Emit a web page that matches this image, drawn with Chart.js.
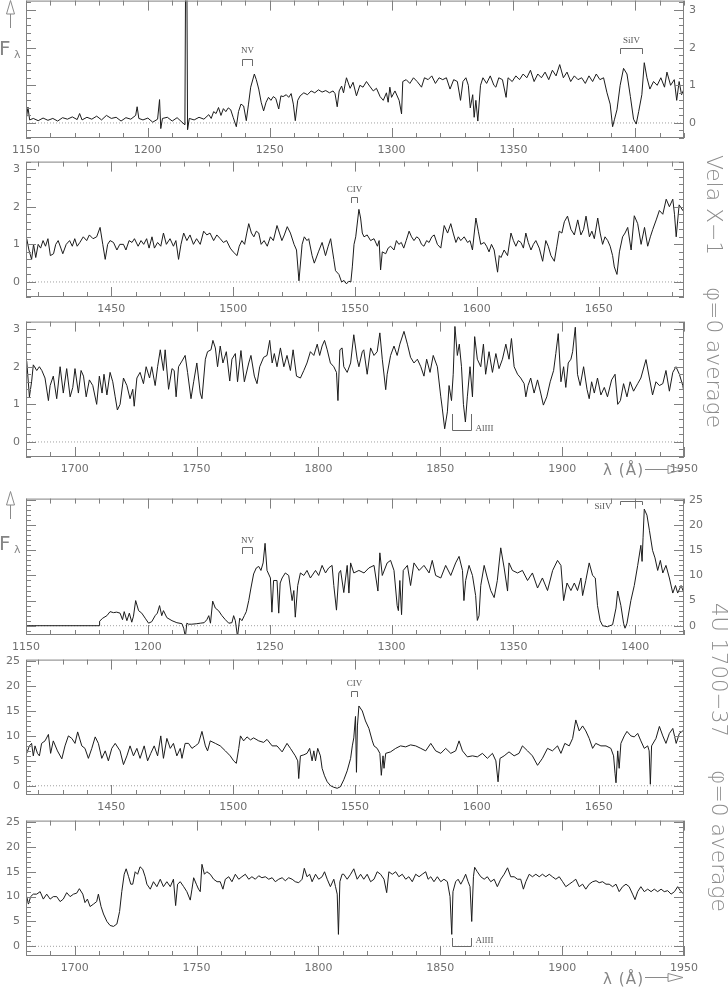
<!DOCTYPE html>
<html><head><meta charset="utf-8">
<script src="https://cdn.jsdelivr.net/npm/chart.js@4/dist/chart.umd.min.js"></script>
<style>
html,body{margin:0;padding:0;background:#fff;}
#wrap{position:relative;width:728px;height:987px;overflow:hidden;background:#fff;}
#wrap canvas{position:absolute;left:0;}
#over{position:absolute;left:0;top:0;}
</style></head>
<body><div id="wrap"></div>
<script>
// ---------- data (wavelength in Å, flux) ----------
const vela1 = [[1150,0.05],[1150.8,0.42],[1151.5,0.08],[1153,0.12],[1155,0.06],[1157,0.13],[1159,0.07],[1161,0.12],[1163,0.05],[1165,0.14],[1167,0.1],[1169,0.16],[1171,0.09],[1172,0.25],[1173,0.08],[1175,0.15],[1177,0.1],[1179,0.18],[1181,0.08],[1183,0.2],[1185,0.12],[1187,0.15],[1189,0.05],[1191,0.14],[1193,0.1],[1195,0.2],[1195.6,0.43],[1196.3,0.12],[1198,0.08],[1200,0.13],[1202,0.02],[1204,0.1],[1204.8,0.62],[1205.3,-0.15],[1206,0.12],[1208,0.15],[1210,0.05],[1212,0.14],[1214,0.02],[1215.2,-0.05],[1215.5,4.0],[1216.0,4.0],[1216.3,-0.18],[1217,0.12],[1219,0.08],[1221,0.15],[1223,0.1],[1225,0.22],[1226,0.12],[1227,0.3],[1228,0.25],[1229,0.41],[1230,0.2],[1231,0.38],[1232,0.3],[1233,0.4],[1234,0.35],[1235,0.15],[1236.3,-0.1],[1237.2,0.3],[1238.2,0.5],[1239.3,0.45],[1240.4,0.06],[1241.3,0.5],[1242.2,0.95],[1243.7,1.3],[1244.5,1.15],[1245.5,0.9],[1246.5,0.55],[1247.5,0.32],[1248.5,0.55],[1249.5,0.68],[1250.5,0.6],[1251.5,0.7],[1252.5,0.65],[1253.7,0.37],[1254.6,0.72],[1255.5,0.7],[1256.8,0.75],[1257.8,0.68],[1258.8,0.78],[1259.7,0.5],[1260.5,0.06],[1261.5,0.6],[1262.5,0.72],[1264,0.8],[1265.5,0.75],[1267,0.85],[1268.5,0.8],[1270,0.88],[1271.5,0.82],[1273,0.86],[1274.5,0.8],[1276,0.85],[1276.8,0.78],[1277.7,0.43],[1278.5,0.85],[1279.5,0.98],[1280.3,0.8],[1281,1.05],[1281.5,1.2],[1283,0.92],[1284.2,1.08],[1285.6,0.72],[1287,1.0],[1288.3,0.95],[1289.7,1.1],[1291,0.98],[1292.5,0.85],[1293.8,0.92],[1295.3,0.7],[1296.6,0.6],[1297.9,0.8],[1298.6,0.55],[1299.3,0.95],[1300,0.68],[1301.4,0.85],[1303.1,0.6],[1304.1,0.24],[1304.6,1.1],[1306,1.15],[1307.5,1.05],[1309,1.2],[1310.5,1.1],[1312.3,0.95],[1313.5,1.2],[1315,1.15],[1316.5,1.25],[1318,1.05],[1319.5,1.2],[1321,1.15],[1322.5,1.2],[1324,0.9],[1325.5,1.15],[1327,1.1],[1328.3,0.6],[1329.3,1.1],[1330.5,1.2],[1331.5,1.0],[1332.3,0.4],[1333.3,0.75],[1333.9,0.15],[1334.6,0.6],[1335.4,0.05],[1336.5,1.0],[1337.5,1.2],[1339,1.05],[1340.5,1.25],[1342,1.0],[1342.8,0.95],[1344,1.2],[1345.5,1.15],[1347,0.68],[1347.8,1.2],[1349.5,1.1],[1351,1.25],[1352.5,1.15],[1354,1.3],[1355.5,1.2],[1357,1.4],[1358.5,1.1],[1360,1.3],[1361.5,1.2],[1363,1.35],[1364.5,1.15],[1366,1.4],[1367.5,1.25],[1369,1.55],[1370.5,1.2],[1372,1.35],[1373.5,1.1],[1375,1.25],[1376.5,1.15],[1378,1.2],[1379.5,1.05],[1381,1.25],[1382.5,1.1],[1384,1.3],[1385.5,1.15],[1387,1.2],[1388.4,0.8],[1389.7,0.5],[1390.7,-0.1],[1391.5,0.1],[1392.5,0.35],[1393.8,1.0],[1395.2,1.45],[1396.6,1.3],[1398,0.7],[1399.3,0.1],[1400.4,-0.03],[1401.4,0.3],[1402.7,0.75],[1403.7,1.6],[1404.8,1.2],[1406,0.9],[1407.5,1.1],[1409,1.0],[1410.5,1.2],[1412,0.95],[1413,1.35],[1414.5,1.0],[1416,1.15],[1417,0.6],[1418,1.1],[1419,0.75],[1420,0.9]];

const vela2 = [[1415.3,1.15],[1416.2,0.85],[1417.3,0.6],[1418.1,1.0],[1419,0.65],[1420,1.0],[1421,0.9],[1422,1.1],[1423,0.95],[1424,1.15],[1425,0.7],[1426.3,0.75],[1427.2,1.0],[1428.2,1.1],[1429.3,0.9],[1430.1,0.75],[1431.5,1.0],[1432.9,1.1],[1434,0.95],[1435,1.15],[1436,0.95],[1437.1,1.05],[1438.5,1.2],[1439.9,1.1],[1441,1.25],[1442.5,1.15],[1444,1.2],[1445.4,1.45],[1446.5,1.0],[1447.5,0.6],[1448.5,1.0],[1449.5,1.1],[1450.9,1.05],[1452.3,0.85],[1453.5,1.0],[1455,1.0],[1456,0.85],[1457.3,1.1],[1458.5,1.05],[1459.5,1.15],[1461,0.95],[1462.2,1.1],[1463.3,1.0],[1464.5,1.15],[1465.5,0.9],[1466.7,1.2],[1467.7,0.9],[1469,1.05],[1470.3,0.95],[1471.4,1.3],[1472.6,1.0],[1474.1,1.15],[1475.5,0.95],[1476.5,1.1],[1477.6,0.6],[1478.6,1.0],[1479.7,1.3],[1481,1.1],[1482.3,1.25],[1483.7,1.0],[1485,1.15],[1486.5,1.0],[1487.9,1.35],[1489.2,1.25],[1490.5,1.3],[1492,1.1],[1493.3,1.25],[1494.7,1.15],[1496,1.05],[1497.3,1.1],[1498.8,0.9],[1500,0.8],[1501.6,0.7],[1502.5,0.95],[1503.6,1.1],[1504.7,1.0],[1505.6,1.3],[1506.4,1.55],[1507.5,1.3],[1508.5,1.2],[1509.5,1.35],[1510.5,1.3],[1511.5,1.0],[1512.7,1.1],[1514,0.95],[1515.3,1.2],[1516.5,1.1],[1518,1.5],[1519,1.3],[1520,1.1],[1521,1.25],[1522.2,1.47],[1523.5,1.3],[1525,1.0],[1526,0.85],[1527,0.03],[1528.3,1.0],[1529.2,1.2],[1530.3,1.1],[1531,1.15],[1532.4,0.7],[1533.3,0.5],[1535,0.8],[1536.5,1.05],[1537.9,0.7],[1539,0.95],[1540,1.15],[1541.3,0.6],[1542,0.3],[1543.4,0.2],[1544.5,0.0],[1545.5,0.04],[1546.5,-0.05],[1547.5,0.02],[1548.3,0.0],[1548.9,0.4],[1549.6,1.0],[1550.3,1.2],[1551.6,1.93],[1552.3,1.7],[1553,1.3],[1553.7,1.2],[1555,1.25],[1556.4,1.1],[1557.8,1.15],[1559.2,0.95],[1559.9,1.1],[1560.5,0.32],[1561.2,0.8],[1562.6,0.75],[1563.6,0.9],[1564.6,0.95],[1566,0.85],[1567,1.1],[1568,1.0],[1569,1.05],[1570,0.9],[1571,1.1],[1572.2,1.35],[1573.2,1.2],[1574.2,1.1],[1575.3,1.2],[1576.3,1.15],[1577.3,1.0],[1578.3,0.95],[1579.4,1.1],[1580.4,1.05],[1581.5,1.2],[1582.5,1.25],[1583.8,1.0],[1585.2,0.9],[1586.6,1.5],[1588,1.3],[1589.3,1.55],[1590.3,1.3],[1591.4,1.05],[1592.4,1.2],[1593.4,1.1],[1594.8,1.2],[1596.2,1.05],[1597.2,1.1],[1598.2,0.85],[1599.6,1.7],[1600.6,1.35],[1601.6,1.0],[1603,1.05],[1604,0.95],[1605,0.8],[1606,1.0],[1607.1,0.85],[1608.5,0.26],[1609.2,0.7],[1609.9,0.65],[1611.2,0.85],[1612.6,0.7],[1614,1.3],[1615,1.1],[1616,0.95],[1617,1.1],[1618.1,1.05],[1619.1,0.9],[1620.1,1.3],[1621.1,1.05],[1622.2,0.85],[1623.2,1.0],[1624.2,1.1],[1625.6,0.9],[1627,0.55],[1628.3,1.1],[1629.3,0.95],[1630.4,0.7],[1631.8,0.55],[1632.8,0.95],[1633.8,1.35],[1634.9,1.3],[1635.9,1.6],[1637.2,1.75],[1638.6,1.4],[1640,1.25],[1641.4,1.65],[1642.7,1.25],[1643.8,1.4],[1644.8,1.75],[1646.2,1.2],[1647.2,1.35],[1648.2,1.15],[1649.6,1.7],[1650.6,1.3],[1651.6,1.0],[1652.6,1.2],[1653.7,1.1],[1654.7,0.95],[1655.7,0.7],[1656.4,0.4],[1657.5,0.2],[1658.5,0.8],[1659.8,1.2],[1660.8,1.3],[1661.9,1.45],[1663.3,0.85],[1664.6,1.76],[1666,1.55],[1667.4,1.0],[1668.8,1.45],[1670.1,0.95],[1671.2,1.2],[1672.2,1.4],[1673.6,1.65],[1674.9,1.9],[1676.3,1.8],[1677.7,2.2],[1679,2.0],[1680.4,2.2],[1681.1,1.8],[1681.8,1.2],[1683,2.05],[1684.5,1.9],[1685.5,2.05]];

const vela3 = [[1680.3,2.15],[1681.4,1.2],[1682.3,1.6],[1683,2.05],[1684.4,1.9],[1685.5,2.0],[1686.5,1.9],[1687.8,1.7],[1689.2,1.1],[1689.9,1.5],[1691.2,1.75],[1692.6,1.15],[1694,2.0],[1695.3,1.3],[1696.7,1.95],[1698.1,1.2],[1699.2,1.45],[1700.1,1.95],[1701.5,1.3],[1702.6,1.9],[1703.6,1.75],[1704.7,1.2],[1706,1.65],[1707.4,1.5],[1709,1.0],[1710.1,1.75],[1711.2,1.3],[1712,1.8],[1713.2,1.25],[1714.5,1.85],[1715.6,1.6],[1716.6,1.2],[1717.5,0.85],[1718.6,1.0],[1720,1.7],[1721.4,1.5],[1722.7,1.15],[1723.8,1.4],[1724.4,0.95],[1725.5,1.7],[1726.8,1.85],[1728.2,1.55],[1729.3,2.0],[1730.7,1.7],[1731.6,2.0],[1733,1.5],[1734,2.0],[1735.1,2.45],[1736.4,1.9],[1737.1,2.45],[1738.5,1.4],[1739.9,1.95],[1740.8,1.9],[1741.6,1.2],[1742.6,2.0],[1744,2.15],[1745.3,2.3],[1746.3,1.85],[1747.7,1.15],[1748.8,1.6],[1750.1,2.1],[1751.5,1.3],[1752.2,1.15],[1753.6,2.2],[1754.5,2.4],[1755.9,2.45],[1756.7,2.7],[1757.7,2.5],[1758.6,2.0],[1759.7,2.55],[1760.8,2.1],[1762.2,2.4],[1763.6,1.62],[1764.5,2.2],[1765.9,2.35],[1766.8,1.6],[1768.2,2.43],[1769.6,1.6],[1771.4,2.1],[1772.3,2.3],[1773.7,1.75],[1774.8,1.55],[1775.9,2.0],[1777.5,2.25],[1778.9,2.3],[1780,2.7],[1781,2.1],[1781.9,2.35],[1783,2.0],[1784.4,2.5],[1785.8,2.0],[1787.1,2.3],[1788.5,1.9],[1789.6,2.45],[1791,1.75],[1792.6,1.7],[1794,1.9],[1795.3,2.1],[1796.7,2.4],[1798.1,2.3],[1799.5,2.6],[1800.5,2.3],[1801.5,2.55],[1802.5,2.7],[1803.6,2.45],[1804.9,2.1],[1806.3,2.0],[1807.4,1.85],[1808,1.1],[1808.8,2.45],[1809.7,2.5],[1810.4,2.0],[1811.8,1.85],[1813.2,2.1],[1814.5,2.85],[1815.9,2.2],[1816.6,2.0],[1818,2.4],[1818.6,2.45],[1820,1.8],[1821.4,2.5],[1822.8,2.3],[1824.1,2.4],[1825.2,2.9],[1826.2,2.2],[1827.6,1.39],[1828.2,1.8],[1829.6,2.3],[1831,2.55],[1832.3,2.3],[1833.4,2.6],[1835.1,2.94],[1836.5,2.6],[1837.8,2.25],[1839.2,2.1],[1840.6,2.2],[1842,2.0],[1843.3,1.75],[1844.4,2.2],[1845.8,1.85],[1847.1,2.3],[1848.8,2.0],[1850.2,1.2],[1850.8,0.9],[1851.8,0.35],[1852.9,0.8],[1853.6,1.5],[1854.6,1.1],[1855.3,1.8],[1856,3.07],[1857,2.3],[1857.8,2.6],[1858.7,2.0],[1859.5,1.0],[1860.3,0.53],[1861.1,1.2],[1862.2,2.0],[1863.2,1.2],[1864.1,2.8],[1865.2,2.2],[1866.6,2.0],[1867.7,2.6],[1868.6,1.8],[1870,2.4],[1871.4,1.85],[1872.8,2.35],[1874.1,1.95],[1875.5,2.2],[1876.9,2.6],[1878.2,2.2],[1879.2,2.75],[1880.3,2.0],[1881.7,1.8],[1883,1.7],[1884.4,1.55],[1885.1,1.2],[1886,1.5],[1887.1,1.7],[1888.5,1.3],[1889.9,1.65],[1891.2,1.3],[1892.3,0.98],[1893.7,1.2],[1895.1,1.6],[1896.5,1.9],[1897.4,2.35],[1898.4,2.88],[1899.5,1.6],[1900.6,2.0],[1901.5,1.45],[1902.5,2.1],[1903.6,2.2],[1904.3,2.4],[1905.4,3.05],[1906.3,1.8],[1907.4,1.5],[1908.8,2.0],[1910.2,1.4],[1911.1,1.15],[1912.1,1.6],[1913.2,1.3],[1914.5,1.7],[1915.9,1.25],[1917.3,1.45],[1918.6,1.2],[1920.3,1.65],[1921.7,1.8],[1922.8,1.0],[1923.9,1.1],[1925.2,1.55],[1926.6,1.2],[1927.9,1.6],[1929.3,1.35],[1931,1.55],[1932.3,1.7],[1934.4,2.19],[1935.8,1.7],[1937.1,1.25],[1938.5,1.6],[1939.9,1.5],[1941.3,1.55],[1942.6,1.9],[1944,1.35],[1945.4,1.85],[1946.7,2.0],[1948.1,1.8],[1949.5,1.5],[1950,1.3]];

const u1700a = [[1150,0],[1180,0],[1180.2,0.9],[1181.5,1.5],[1183.2,2.0],[1184.5,2.8],[1185.9,2.6],[1187.2,2.7],[1188.6,2.5],[1189.6,1.2],[1190.3,2.8],[1191.4,1.0],[1192.4,2.5],[1193.4,0.7],[1194.1,1.9],[1195,5.0],[1196.2,3.0],[1197.5,2.5],[1198.9,1.5],[1200.3,0.5],[1201.6,0.8],[1203,2.0],[1203.9,2.5],[1204.8,4.0],[1205.7,2.0],[1206.4,3.0],[1207.8,1.6],[1209.9,1.0],[1211.9,0.6],[1214,0.4],[1214.7,-0.5],[1215.4,-2.2],[1216,0.5],[1216.7,0.3],[1218,0.3],[1220.1,0.4],[1221.5,0.5],[1223.1,0.6],[1224.2,1.2],[1225,2.0],[1225.7,0.5],[1226.6,4.9],[1227.7,3.5],[1229,3.0],[1230.4,2.0],[1231.8,1.2],[1233.2,0.5],[1234.5,0.6],[1235.2,2.0],[1235.9,1.0],[1236.8,-2.2],[1237.7,1.5],[1238.6,1.0],[1239.6,2.0],[1240.4,2.8],[1241.4,5.0],[1242.3,7.5],[1243.4,10.3],[1244.5,11.5],[1245.5,11.8],[1246.4,11.0],[1247.3,12.5],[1248.1,16.4],[1248.9,11.0],[1250.3,9.5],[1250.9,2.7],[1251.6,9.0],[1253,9.0],[1253.7,2.5],[1254.3,8.5],[1255.1,9.5],[1256.4,10.5],[1257.8,10.0],[1259.2,5.0],[1259.9,7.0],[1260.5,1.7],[1261.5,8.0],[1262.6,10.5],[1264,10.0],[1265.3,11.0],[1266.7,9.5],[1268.8,11.0],[1270.1,10.0],[1271.5,12.0],[1272.9,10.5],[1274.2,11.5],[1275.6,12.0],[1276.3,8.0],[1277.4,3.1],[1278.4,10.5],[1279.1,11.0],[1280.4,6.6],[1281.8,12.0],[1282.5,6.5],[1283.2,12.5],[1284.5,10.5],[1286.6,11.0],[1288.7,10.5],[1290.7,11.5],[1292.8,12.0],[1294.4,6.9],[1295.2,14.5],[1296.2,10.0],[1298.2,12.5],[1299.6,13.0],[1301,11.0],[1302.3,4.0],[1302.8,3.0],[1303.4,9.0],[1304.1,2.2],[1304.8,11.0],[1306.5,12.0],[1307.8,8.0],[1309.2,12.5],[1311.3,11.0],[1313.3,12.0],[1315.4,10.5],[1316.7,13.0],[1318.1,10.0],[1320.2,9.5],[1322.2,12.0],[1324.3,10.0],[1326.3,12.5],[1327.7,13.8],[1329.1,11.0],[1329.7,5.0],[1330.4,9.0],[1331.8,12.0],[1333.2,10.0],[1334.5,6.0],[1335.2,1.05],[1335.9,2.0],[1336.6,8.0],[1338,12.0],[1339.3,9.5],[1340.7,7.0],[1342.1,5.6],[1343.4,9.0],[1344.8,15.5],[1346.2,11.5],[1347.6,6.9],[1348.2,12.5],[1349.6,11.0],[1351.7,10.5],[1353.7,11.0],[1355.8,9.0],[1357.8,10.5],[1359.9,7.5],[1361.9,9.5],[1364,7.0],[1366.1,11.0],[1368.1,13.0],[1369.5,12.0],[1370.6,5.0],[1372,8.5],[1373.6,7.0],[1375,8.5],[1376.3,7.0],[1377.7,9.5],[1378.4,6.0],[1379.7,9.0],[1381.1,12.5],[1382.5,10.0],[1383.6,9.5],[1384.5,4.0],[1385.6,1.0],[1386.6,0.0],[1388.6,-0.2],[1390.7,0.2],[1392.1,3.5],[1392.8,6.9],[1394.1,4.0],[1395.2,0.5],[1395.8,-0.5],[1396.6,0.5],[1398.2,5.0],[1399.6,8.0],[1401,12.0],[1402.3,16.0],[1402.8,12.8],[1403.2,17.5],[1403.7,23.2],[1404.8,22.0],[1405.8,19.0],[1407.1,15.0],[1408.1,13.5],[1409.2,11.0],[1410.3,13.0],[1411.3,10.5],[1412.6,12.0],[1414,9.5],[1415.4,6.5],[1416.5,8.0],[1417.4,6.5],[1418.8,8.0],[1420,6.5]];

const u1700b = [[1415.3,6.5],[1416.4,8.0],[1417.3,8.5],[1418,6.0],[1418.7,8.0],[1419.7,6.5],[1420.5,6.0],[1421.4,8.5],[1422.8,9.0],[1424.2,10.3],[1425.1,6.5],[1426.2,9.0],[1427.9,7.0],[1429.7,5.4],[1431,8.0],[1432.4,10.0],[1433.8,9.5],[1435.1,8.5],[1436.2,10.8],[1437.9,8.0],[1439.2,7.5],[1440.6,5.5],[1442,7.5],[1443.4,9.8],[1444.7,8.5],[1446.1,5.5],[1447.5,7.0],[1448.8,5.0],[1450.2,7.5],[1451.6,8.5],[1453.6,7.0],[1455,4.25],[1456.4,6.0],[1457.7,8.0],[1459.1,6.0],[1460.5,7.5],[1461.8,5.5],[1463.5,8.0],[1464.9,5.0],[1466.2,6.5],[1467.6,8.0],[1469,6.0],[1470.3,10.0],[1471.4,5.5],[1472.8,9.5],[1474.2,7.5],[1475.5,8.5],[1476.9,6.0],[1478.3,7.5],[1479,5.5],[1480.3,8.5],[1481.7,8.5],[1483.1,7.5],[1484.5,8.0],[1485.8,8.5],[1487.2,10.9],[1488.6,8.0],[1489.5,7.0],[1490.6,9.0],[1492.7,8.5],[1494.7,8.0],[1496.8,7.0],[1498.8,6.0],[1500.2,5.0],[1501.3,4.5],[1502.3,7.5],[1503,10.0],[1504.3,9.0],[1505.7,9.8],[1507.1,9.2],[1508.4,9.6],[1510.5,9.0],[1512.5,8.7],[1513.9,9.3],[1516,8.0],[1518,8.0],[1520.1,6.8],[1522.1,8.5],[1523.5,7.5],[1525.5,6.0],[1526.5,5.0],[1526.9,1.45],[1527.6,6.0],[1529,6.2],[1530.3,6.5],[1531.4,7.5],[1532.4,5.0],[1533.1,7.0],[1533.8,5.0],[1534.7,7.5],[1535.8,6.0],[1536.5,3.5],[1537.5,2.0],[1538.6,0.8],[1540,0.0],[1541.3,-0.3],[1542.7,-0.5],[1544,-0.2],[1545.4,1.2],[1546.8,3.0],[1548.2,5.5],[1548.9,8.0],[1549.5,9.6],[1550.2,13.9],[1550.6,2.7],[1551,12.0],[1551.6,16.0],[1553,15.0],[1554.3,13.0],[1555.7,11.5],[1557.1,9.0],[1557.8,8.0],[1559.1,7.5],[1560.2,6.5],[1560.8,2.1],[1561.5,6.0],[1561.9,3.5],[1562.6,6.5],[1564.6,6.8],[1566.7,7.5],[1568.7,8.0],[1570.8,7.8],[1572.8,8.2],[1574.9,8.0],[1577,7.5],[1579,7.0],[1581.1,8.5],[1583.1,7.0],[1585.2,6.5],[1587.2,7.5],[1589.3,6.5],[1591.3,7.0],[1592.7,9.0],[1594.1,7.0],[1596.1,5.8],[1598.2,6.0],[1600.2,5.8],[1602.3,6.5],[1604.3,5.5],[1606.4,6.5],[1607.8,5.0],[1608.7,0.8],[1609.5,5.5],[1611.2,6.0],[1613.2,6.8],[1615.3,6.0],[1617.3,6.5],[1618.7,8.0],[1620.8,7.0],[1622.8,6.0],[1624.9,4.1],[1626.9,5.5],[1629,7.5],[1631,7.0],[1633.1,8.0],[1634.5,6.5],[1636.1,8.5],[1637.9,8.0],[1639.3,9.5],[1640.6,13.2],[1642,11.0],[1643.4,12.0],[1644.7,11.0],[1646.1,9.5],[1647.5,7.5],[1648.8,8.5],[1650.9,8.0],[1653,8.0],[1655,7.5],[1656.1,6.0],[1656.7,2.5],[1657.1,0.6],[1657.8,7.0],[1658.4,3.5],[1659.1,8.5],[1660.5,10.0],[1661.6,10.9],[1663.2,10.0],[1664.6,9.8],[1666,10.5],[1667.3,9.0],[1668.7,7.5],[1670.1,8.0],[1670.7,7.0],[1671.2,0.3],[1671.7,8.0],[1673.5,9.5],[1674.9,11.9],[1676.3,10.0],[1677.6,8.5],[1679,10.5],[1680.4,11.5],[1681.8,8.5],[1683.1,10.5],[1684.5,11.0],[1685.5,11.0]];

const u1700c = [[1680.3,10.0],[1681,8.5],[1681.9,10.0],[1683,10.5],[1684.4,10.5],[1685.8,11.0],[1687.1,9.5],[1688.5,10.5],[1689.9,9.5],[1691.2,10.0],[1692.6,10.0],[1694,9.0],[1695.3,9.5],[1696.7,10.8],[1698.1,10.0],[1699.5,10.5],[1700.8,10.7],[1701.9,11.6],[1703.3,10.5],[1704.2,8.8],[1705.2,9.5],[1706.3,8.0],[1707.7,8.5],[1709,9.0],[1709.7,10.5],[1710.8,8.0],[1711.8,6.5],[1713.2,5.0],[1714.5,4.2],[1715.9,4.0],[1717.3,4.5],[1718.4,7.0],[1719.3,11.0],[1720.3,14.5],[1721.1,15.6],[1722.1,14.0],[1723,12.5],[1723.8,12.5],[1724.8,15.0],[1725.8,14.5],[1726.8,16.0],[1727.9,15.5],[1728.9,14.0],[1729.6,12.5],[1731,11.5],[1732.3,13.0],[1733.7,12.0],[1735.1,13.5],[1736.4,12.0],[1737.8,13.0],[1739.2,12.0],[1740.5,13.5],[1741.4,8.2],[1742.2,12.5],[1743.3,13.0],[1744.7,12.0],[1746,11.0],[1747.4,9.3],[1748.1,11.5],[1748.8,13.8],[1749.9,12.5],[1750.8,11.5],[1751.5,11.0],[1752.2,16.5],[1753.2,14.5],[1754.2,15.0],[1755.6,14.5],[1757,13.5],[1758.4,13.0],[1759.7,13.0],[1760.8,11.5],[1761.8,13.5],[1763.2,14.0],[1764.5,13.0],[1765.9,14.5],[1767.3,13.5],[1768.6,14.0],[1770,14.5],[1771.4,13.5],[1772.7,14.0],[1774.1,13.5],[1775.5,14.2],[1776.8,13.8],[1778.2,14.0],[1779.6,13.5],[1781,13.8],[1782.3,13.0],[1783.7,13.5],[1785.1,13.8],[1786.4,13.2],[1787.8,13.8],[1789.2,13.5],[1790.5,13.0],[1791.9,12.8],[1793.3,13.5],[1794.2,15.7],[1795.3,14.0],[1796.4,14.5],[1797.4,13.0],[1798.8,14.5],[1800.1,13.5],[1801.5,14.0],[1802.5,15.0],[1803.6,13.5],[1804.9,12.0],[1806.3,13.5],[1807,12.0],[1807.7,10.5],[1808.2,2.4],[1808.8,13.0],[1809.7,14.5],[1810.4,14.5],[1811.8,13.5],[1813.2,14.5],[1814.5,15.6],[1815.9,13.5],[1817.3,14.5],[1818.6,13.5],[1820,14.5],[1821.4,13.0],[1822.8,13.5],[1824.1,15.0],[1825.5,14.5],[1826.9,13.5],[1828,10.8],[1828.9,15.0],[1830.3,14.5],[1831.7,15.0],[1833,14.0],[1834.4,14.5],[1835.8,13.5],[1837.1,14.0],[1838.5,13.0],[1839.9,14.5],[1841.3,14.0],[1842.6,14.5],[1844,15.0],[1845,13.5],[1846.1,14.0],[1847.4,13.0],[1848.8,14.0],[1850.2,13.0],[1851.5,13.5],[1852.9,13.0],[1854,10.0],[1854.7,2.4],[1855.2,11.0],[1856.3,13.0],[1857.3,13.5],[1858.4,12.5],[1859.5,13.5],[1860.4,14.5],[1861.4,13.0],[1862.2,12.0],[1862.9,5.0],[1863.6,14.0],[1864.1,15.9],[1865.2,15.0],[1866.6,14.0],[1868,13.5],[1869.3,14.0],[1870.7,13.0],[1872.1,13.5],[1873.4,12.0],[1874.8,13.5],[1876.2,14.5],[1877.6,15.8],[1878.9,14.0],[1880.3,14.0],[1881.7,13.5],[1883,13.5],[1884.1,11.5],[1885.1,13.0],[1886.5,14.5],[1887.8,14.0],[1889.2,14.5],[1890.6,14.0],[1891.9,14.5],[1893.3,14.0],[1894.7,14.5],[1896,14.0],[1897.4,13.5],[1898.8,14.0],[1900.2,13.0],[1901.5,12.0],[1902.9,12.5],[1904.3,13.0],[1905.6,13.5],[1907,12.0],[1908.4,12.5],[1909.7,11.5],[1911.1,12.5],[1912.5,13.0],[1913.9,13.2],[1915.2,12.8],[1916.6,13.0],[1918,12.5],[1919.3,12.5],[1920.7,12.0],[1922.1,12.5],[1923.4,11.0],[1924.8,12.0],[1926.2,12.5],[1927.5,12.0],[1928.9,10.5],[1929.9,9.4],[1931,11.0],[1932.3,12.0],[1933.7,11.0],[1935.1,11.5],[1936.5,11.0],[1937.8,11.5],[1939.2,11.0],[1940.6,11.5],[1941.9,11.0],[1943.3,11.2],[1944.7,10.5],[1946.1,11.0],[1947.4,12.0],[1948.8,11.0],[1950,10.5]];

// tick labels
const xTicksA = [1150,1200,1250,1300,1350,1400];
const xTicksB = [1450,1500,1550,1600,1650];
const xTicksC = [1700,1750,1800,1850,1900,1950];
const velaYTicks = [0,1,2,3];
const u1700YTicks = [0,5,10,15,20,25];

// line identifications: [label, lambda1, lambda2, barFlux, legFlux, labelFlux, labelSide]
const vela1Marks = [['NV',1238.8,1242.8,1.71,1.50,1.92,'center'],['SiIV',1393.8,1402.8,1.99,1.82,2.19,'center']];
const vela2Marks = [['CIV',1548.2,1550.8,2.27,2.10,2.46,'center']];
const vela3Marks = [['AlIII',1854.7,1862.8,0.32,0.75,0.36,'left']];
const u1700aMarks = [['NV',1238.8,1242.8,15.6,14.3,17.0,'center'],['SiIV',1393.8,1402.8,24.8,24.0,23.7,'right']];
const u1700bMarks = [['CIV',1548.2,1550.8,19.1,17.8,20.4,'center']];
const u1700cMarks = [['AlIII',1854.7,1862.8,0.05,1.7,1.05,'left']];

// ---------- layout ----------
const panels = [
  {data:vela1, marks:vela1Marks, xr:[1150,1420], yr:[-0.4,3.25], top:-1, bottom:138, side:'right', xt:xTicksA, yt:velaYTicks, yMinor:0.2, yMajor:1},
  {data:vela2, marks:vela2Marks, xr:[1415,1685], yr:[-0.4,3.2], top:159, bottom:297, side:'left', xt:xTicksB, yt:velaYTicks, yMinor:0.2, yMajor:1},
  {data:vela3, marks:vela3Marks, xr:[1680,1950], yr:[-0.4,3.2], top:319, bottom:457, side:'left', xt:xTicksC, yt:velaYTicks, yMinor:0.2, yMajor:1},
  {data:u1700a, marks:u1700aMarks, xr:[1150,1420], yr:[-1.85,25.3], top:497, bottom:635, side:'right', xt:xTicksA, yt:u1700YTicks, yMinor:1, yMajor:5},
  {data:u1700b, marks:u1700bMarks, xr:[1415,1685], yr:[-1.85,25.3], top:657, bottom:795, side:'left', xt:xTicksB, yt:u1700YTicks, yMinor:1, yMajor:5},
  {data:u1700c, marks:u1700cMarks, xr:[1680,1950], yr:[-1.95,25.3], top:818, bottom:956, side:'left', xt:xTicksC, yt:u1700YTicks, yMinor:1, yMajor:5}
];

const FRAME = '#808080';
const framePlugin = {
  id: 'frame',
  afterDatasetsDraw(chart) {
    const o = chart.options.plugins.frame;
    const {ctx, chartArea: a} = chart;
    const x = chart.scales.x, y = chart.scales.y;
    ctx.save();
    ctx.strokeStyle = FRAME; ctx.lineWidth = 1;
    ctx.strokeRect(a.left + 0.5, a.top + 0.5, a.right - a.left - 1, a.bottom - a.top - 1);
    ctx.beginPath();
    const isMaj = (v, m) => Math.abs(v / m - Math.round(v / m)) < 1e-6;
    for (let i = Math.ceil(x.min / 10 - 1e-9); i * 10 <= x.max + 1e-9; i++) {
      const v = i * 10, px = Math.round(x.getPixelForValue(v)) + 0.5;
      const len = isMaj(v, 50) ? 10 : 5;
      ctx.moveTo(px, a.bottom); ctx.lineTo(px, a.bottom - len);
      ctx.moveTo(px, a.top); ctx.lineTo(px, a.top + len);
    }
    for (let i = Math.ceil(y.min / o.yMinor - 1e-9); i * o.yMinor <= y.max + 1e-9; i++) {
      const v = i * o.yMinor, py = Math.round(y.getPixelForValue(v)) + 0.5;
      const len = isMaj(v, o.yMajor) ? 10 : 5;
      ctx.moveTo(a.left, py); ctx.lineTo(a.left + len, py);
      ctx.moveTo(a.right, py); ctx.lineTo(a.right - len, py);
    }
    ctx.stroke();
    // line identification brackets
    ctx.strokeStyle = '#6a6a6a';
    ctx.fillStyle = '#555';
    ctx.font = '9px "Liberation Serif", "DejaVu Serif", serif';
    ctx.textBaseline = 'middle';
    o.marks.forEach(m => {
      const x1 = Math.round(x.getPixelForValue(m[1])) + 0.5, x2 = Math.round(x.getPixelForValue(m[2])) + 0.5;
      const yb = Math.round(y.getPixelForValue(m[3])) + 0.5, yl = Math.round(y.getPixelForValue(m[4]));
      ctx.beginPath();
      ctx.moveTo(x1, yl); ctx.lineTo(x1, yb); ctx.lineTo(x2, yb); ctx.lineTo(x2, yl);
      ctx.stroke();
      const ty = y.getPixelForValue(m[5]);
      if (m[6] === 'center') { ctx.textAlign = 'center'; ctx.fillText(m[0], (x1 + x2) / 2, ty); }
      else if (m[6] === 'left') { ctx.textAlign = 'left'; ctx.fillText(m[0], x2 + 4, ty); }
      else { ctx.textAlign = 'right'; ctx.fillText(m[0], x1 - 9, ty); }
    });
    ctx.restore();
  }
};

const wrap = document.getElementById('wrap');
const tickFont = {family: '"DejaVu Sans", sans-serif', size: 11};
panels.forEach(p => {
  const c = document.createElement('canvas');
  const h = (p.bottom - p.top) + 10 + 30;
  c.width = 728; c.height = h;
  c.style.width = '728px'; c.style.height = h + 'px';
  c.style.top = (p.top - 10) + 'px';
  wrap.appendChild(c);
  const right = p.side === 'right';
  new Chart(c, {
    type: 'line',
    data: { datasets: [
      {data: p.data, borderColor: '#1c1c1c', borderWidth: 1, pointRadius: 0, tension: 0, fill: false},
      {data: [[p.xr[0], 0], [p.xr[1], 0]], borderColor: '#a0a0a0', borderWidth: 1, borderDash: [1, 2], pointRadius: 0, fill: false}
    ]},
    options: {
      responsive: false, animation: false, devicePixelRatio: 1, events: [],
      layout: {autoPadding: false, padding: {top: 10, bottom: 0, left: right ? 26 : 0, right: right ? 0 : 44}},
      plugins: {legend: {display: false}, tooltip: {enabled: false},
        frame: {yMinor: p.yMinor, yMajor: p.yMajor, marks: p.marks}},
      scales: {
        x: {type: 'linear', position: 'bottom', min: p.xr[0], max: p.xr[1],
          grid: {display: false, drawTicks: false}, border: {display: false},
          afterBuildTicks: s => { s.ticks = p.xt.map(v => ({value: v})); },
          afterFit: s => { s.height = 30; },
          ticks: {padding: 6, autoSkip: false, maxRotation: 0, minRotation: 0, color: '#707070', font: tickFont, callback: v => String(v)}},
        y: {type: 'linear', position: p.side, min: p.yr[0], max: p.yr[1],
          grid: {display: false, drawTicks: false}, border: {display: false},
          afterBuildTicks: s => { s.ticks = p.yt.map(v => ({value: v})); },
          afterFit: s => { s.width = right ? 44 : 26; },
          ticks: {padding: right ? 5 : 6, autoSkip: false, color: '#707070', font: tickFont, callback: v => String(v)}}
      }
    },
    plugins: [framePlugin]
  });
});

// ---------- decorations (text + arrows) ----------
const svgNS = 'http://www.w3.org/2000/svg';
wrap.insertAdjacentHTML('beforeend',
`<svg id="over" width="728" height="987" xmlns="${svgNS}" font-family="DejaVu Sans, sans-serif">
 <g stroke="#8a8a8a" fill="none" stroke-width="1">
  <path d="M10.5 28 V14 M6.5 14 H14.5 L10.5 0.5 Z"/>
  <path d="M10.5 519 V505 M6.5 505 H14.5 L10.5 491.5 Z"/>
  <path d="M645 469.5 H668 M668 465.5 V473.5 L683 469.5 Z"/>
  <path d="M645 977.5 H668 M668 973.5 V981.5 L683 977.5 Z"/>
 </g>
 <g fill="#858585">
  <text x="-1" y="55" font-size="20">F</text><text x="14" y="58" font-size="11">λ</text>
  <text x="-1" y="550" font-size="20">F</text><text x="14" y="553" font-size="11">λ</text>
  <text x="603" y="475" font-size="15" textLength="40" lengthAdjust="spacing">λ (Å)</text>
  <text x="603" y="983.5" font-size="15" textLength="40" lengthAdjust="spacing">λ (Å)</text>
 </g>
 <g fill="#8c8c8c" font-size="22" font-weight="200">
  <text transform="translate(707,155) rotate(90)" textLength="100" lengthAdjust="spacingAndGlyphs">Vela X−1</text>
  <text transform="translate(707,287) rotate(90)" textLength="141" lengthAdjust="spacingAndGlyphs">φ=0 average</text>
  <text transform="translate(712,603) rotate(90)" textLength="134" lengthAdjust="spacingAndGlyphs">4U 1700−37</text>
  <text transform="translate(712,770) rotate(90)" textLength="142" lengthAdjust="spacingAndGlyphs">φ=0 average</text>
 </g>
</svg>`);
</script>
</body></html>
